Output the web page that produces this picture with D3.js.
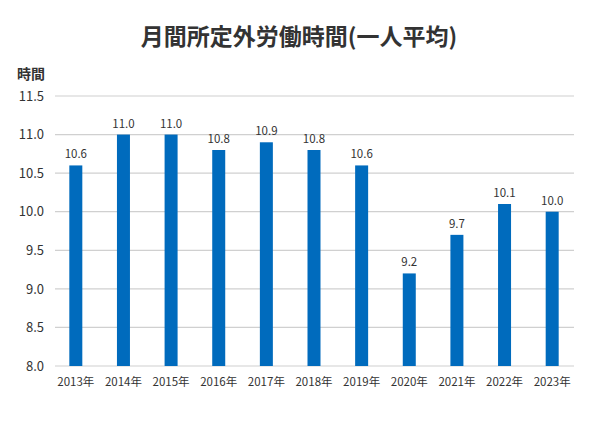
<!DOCTYPE html>
<html><head><meta charset="utf-8">
<script src="https://cdn.jsdelivr.net/npm/d3@7"></script>
<style>body{margin:0;background:#fff}svg{display:block;font-family:"Noto Sans CJK JP","Noto Sans",sans-serif}</style>
</head><body><svg id="c" width="600" height="422"></svg>
<script>
const categories=["2013年","2014年","2015年","2016年","2017年","2018年","2019年","2020年","2021年","2022年","2023年"];
const values=[10.6,11.0,11.0,10.8,10.9,10.8,10.6,9.2,9.7,10.1,10.0];
const yTicks=[8.0,8.5,9.0,9.5,10.0,10.5,11.0,11.5];
const title="月間所定外労働時間(一人平均)";
const yUnit="時間";

const svg=d3.select("#c");
const x=d3.scaleBand().domain(categories).range([52,576]);
const y=d3.scaleLinear().domain([8,11.5]).range([366,96]);
const gx0=55,gx1=574;

svg.append("text").attr("x",299).attr("y",45).attr("text-anchor","middle")
 .attr("font-size",23).attr("font-weight","bold").attr("fill","#333").text(title);
svg.append("text").attr("x",17).attr("y",79).attr("font-size",14).attr("font-weight","bold").attr("fill","#333").text(yUnit);

const ya=svg.append("g").call(d3.axisLeft(y).tickValues(yTicks).tickFormat(d3.format(".1f")).tickSize(0));
ya.select(".domain").remove();
ya.attr("font-family",null);
ya.selectAll("text").attr("x",44).attr("font-size",13).attr("fill","#333");
svg.append("g").selectAll("line").data(yTicks).join("line")
 .attr("x1",gx0).attr("x2",gx1).attr("y1",d=>y(d)).attr("y2",d=>y(d))
 .attr("stroke","#d0d0d0").attr("stroke-width",1.2);

const bw=13;
svg.append("g").selectAll("rect").data(values).join("rect")
 .attr("x",(d,i)=>x(categories[i])+x.bandwidth()/2-bw/2).attr("width",bw)
 .attr("y",d=>y(d)).attr("height",d=>y(8)-y(d)).attr("fill","#006bbd");

svg.append("g").selectAll("text").data(values).join("text")
 .attr("x",(d,i)=>x(categories[i])+x.bandwidth()/2).attr("y",d=>y(d)-7)
 .attr("text-anchor","middle").attr("font-size",11.5).attr("fill","#333").text(d=>d.toFixed(1));

const xa=svg.append("g").attr("transform","translate(0,366)").call(d3.axisBottom(x).tickSize(0));
xa.select(".domain").remove();
xa.attr("font-family",null);
xa.selectAll("text").attr("y",12).attr("font-size",11.5).attr("fill","#333");
</script></body></html>
